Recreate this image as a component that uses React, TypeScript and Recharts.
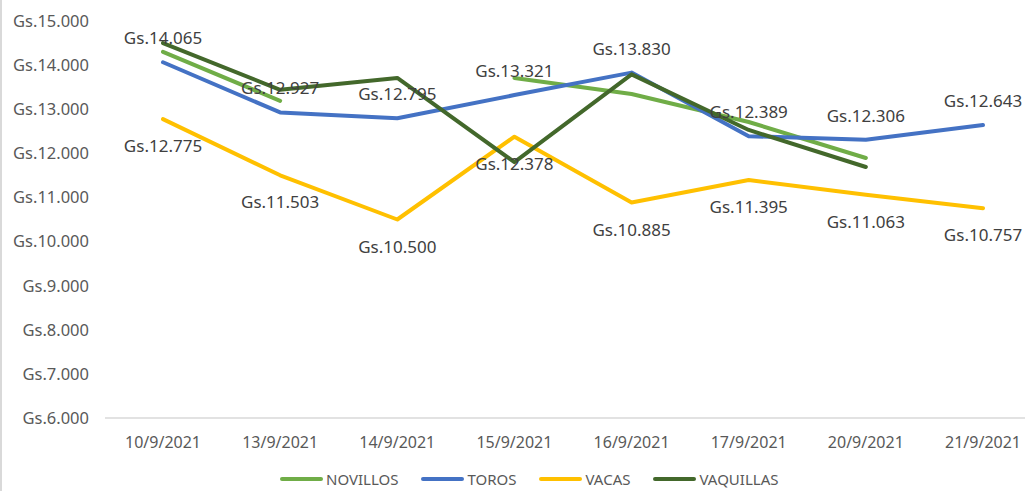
import React from 'react';
import { LineChart, Line, XAxis, YAxis, LabelList } from 'recharts';

const dates = ['10/9/2021', '13/9/2021', '14/9/2021', '15/9/2021', '16/9/2021', '17/9/2021', '20/9/2021', '21/9/2021'];
const novillos = [14300, 13190, null, 13710, 13345, 12710, 11895, null];
const toros = [14065, 12927, 12795, 13321, 13830, 12389, 12306, 12643];
const vacas = [12775, 11503, 10500, 12378, 10885, 11395, 11063, 10757];
const vaquillas = [14500, 13440, 13710, 11800, 13790, 12530, 11690, null];
const yTicks = [6000, 7000, 8000, 9000, 10000, 11000, 12000, 13000, 14000, 15000];

const series = [
  { key: 'NOVILLOS', color: '#70ad47' },
  { key: 'TOROS', color: '#4472c4' },
  { key: 'VACAS', color: '#ffc000' },
  { key: 'VAQUILLAS', color: '#43682b' },
];

const data = dates.map((date, i) => ({
  date,
  NOVILLOS: novillos[i],
  TOROS: toros[i],
  VACAS: vacas[i],
  VAQUILLAS: vaquillas[i],
}));

const gs = (v: any) => 'Gs.' + String(v).replace(/\B(?=(\d{3})+(?!\d))/g, '.');

const font = '"Noto Sans", sans-serif';

export default function App() {
  return (
    <div style={{ position: 'absolute', left: 0, top: 0, width: 1025, height: 491, overflow: 'hidden', background: '#fff', fontFamily: font }}>
      <div style={{ position: 'absolute', left: 0, top: 0, width: 2, height: 491, background: '#d9d9d9' }} />
      <LineChart width={1041} height={491} data={data} margin={{ top: 21, right: 0, bottom: 0, left: 0 }}>
        <XAxis
          dataKey="date"
          height={73}
          interval={0}
          padding={{ left: 58, right: 58 }}
          tickLine={false}
          tickMargin={13}
          axisLine={{ stroke: '#d9d9d9', strokeWidth: 1.5 }}
          tick={{ fill: '#595959', fontSize: 16, fontFamily: font }}
        />
        <YAxis
          width={105}
          domain={[6000, 15000]}
          ticks={yTicks}
          axisLine={false}
          tickLine={false}
          tickMargin={10}
          tickFormatter={gs}
          tick={{ fill: '#595959', fontSize: 16.5, fontFamily: font }}
        />
        {series.map((s) => (
          <Line
            key={s.key}
            dataKey={s.key}
            stroke={s.color}
            strokeWidth={4}
            strokeLinecap="round"
            strokeLinejoin="round"
            dot={false}
            activeDot={false}
            isAnimationActive={false}
          >
            {s.key === 'TOROS' && (
              <LabelList dataKey="TOROS" position="top" offset={18} formatter={gs} fill="#404040" fontSize={17} fontFamily={font} />
            )}
            {s.key === 'VACAS' && (
              <LabelList dataKey="VACAS" position="bottom" offset={21} formatter={gs} fill="#404040" fontSize={17} fontFamily={font} />
            )}
          </Line>
        ))}
      </LineChart>
      <div style={{ position: 'absolute', left: 280, top: 470, display: 'flex', alignItems: 'center', fontSize: 15, lineHeight: '18px', color: '#595959' }}>
        {series.map((s) => (
          <div key={s.key} style={{ display: 'flex', alignItems: 'center', marginRight: 23 }}>
            <div style={{ width: 43, height: 4, borderRadius: 2, background: s.color, marginRight: 3 }} />
            <span>{s.key}</span>
          </div>
        ))}
      </div>
    </div>
  );
}
